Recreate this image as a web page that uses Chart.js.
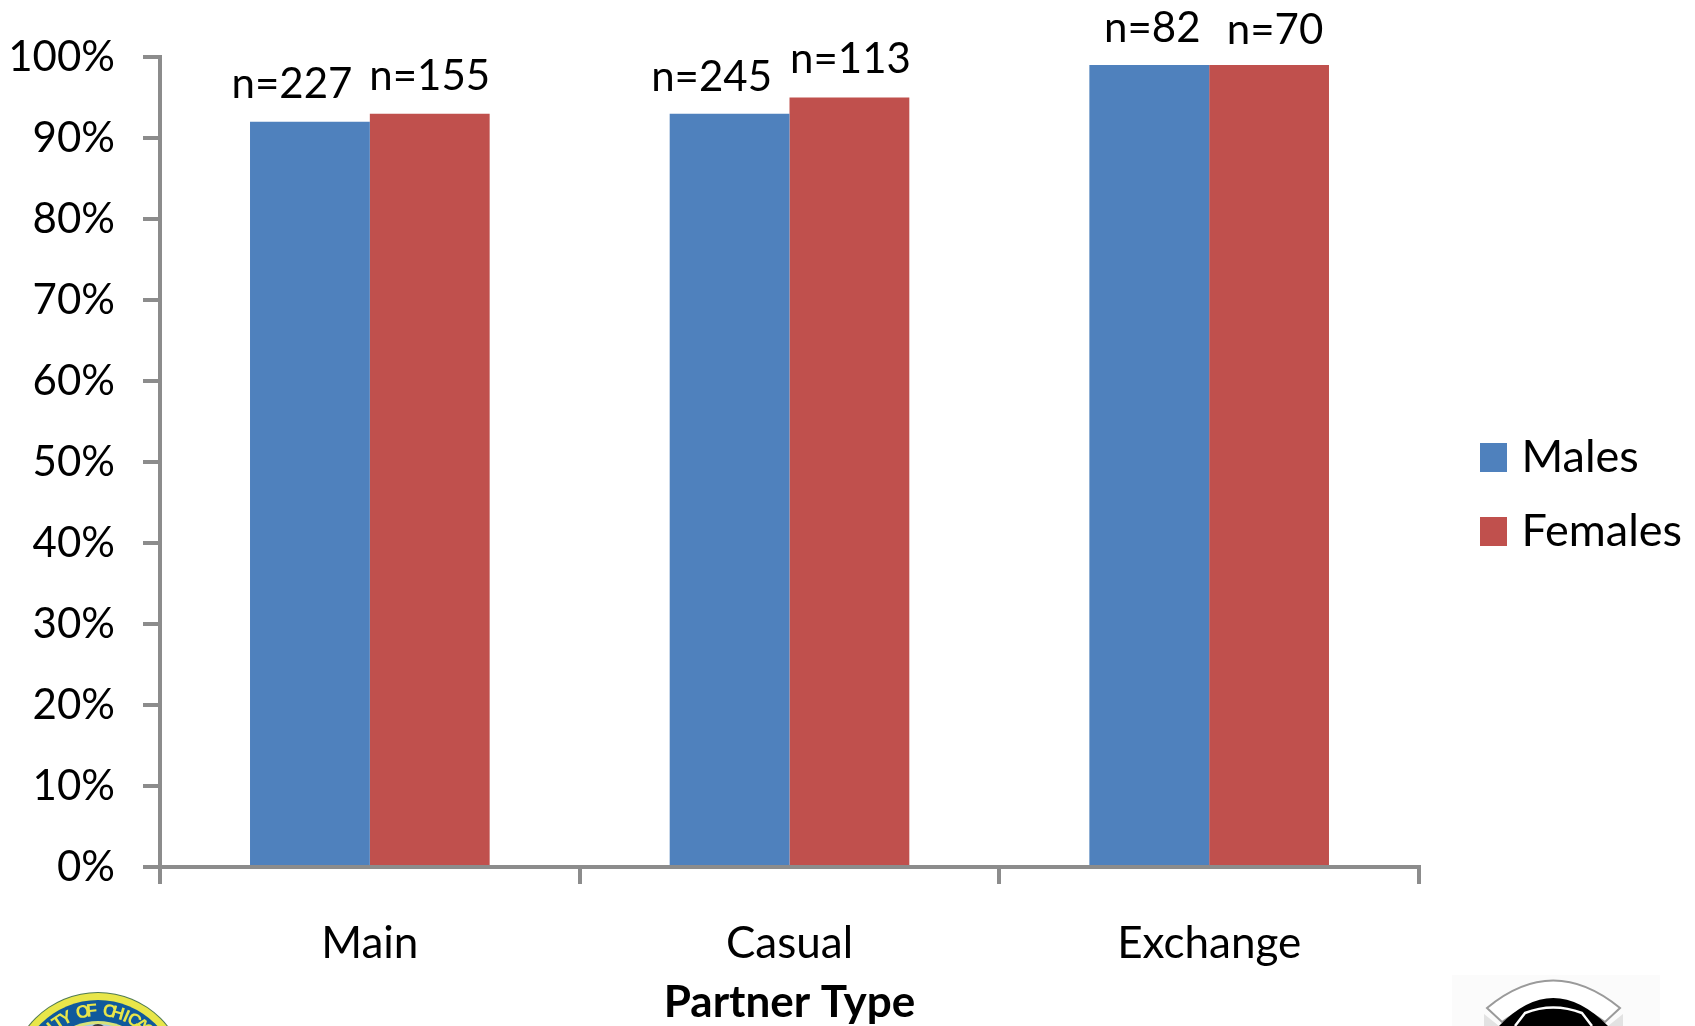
<!DOCTYPE html>
<html>
<head>
<meta charset="utf-8">
<style>
  html, body { margin: 0; padding: 0; background: #fff; }
  #wrap { width: 1695px; height: 1026px; }
</style>
<script src="https://cdn.jsdelivr.net/npm/chart.js@4/dist/chart.umd.min.js"></script>
</head>
<body>
<div id="wrap"><canvas id="chart"></canvas></div>
<script>
var categories = ["Main", "Casual", "Exchange"];
var males = [92, 93, 99];
var females = [93, 95, 99];
var malesN = ["n=227", "n=245", "n=82"];
var femalesN = ["n=155", "n=113", "n=70"];
var yTicks = ["0%", "10%", "20%", "30%", "40%", "50%", "60%", "70%", "80%", "90%", "100%"];

var blue = "#4f81bd";
var red = "#c0504d";
var axisGrey = "#8c8c8c";
var font = "Lato, 'Open Sans', sans-serif";

// text above bars, hand placed like in the slide: [dx, dy] from bar top centre
var maleNudge = [[-18, -16], [-18, -15], [3, -16]];
var femaleNudge = [[0, -16], [1, -17], [6, -14]];

// legend box as a picture so the text can sit closer than chart.js allows
function swatch(color) {
    var c = document.createElement("canvas");
    c.width = 27;
    c.height = 29;
    var g = c.getContext("2d");
    g.fillStyle = color;
    g.fillRect(0, 0, 27, 29);
    return c;
}

var nLabels = {
    id: "nLabels",
    afterDatasetsDraw: function (chart) {
        var ctx = chart.ctx;
        ctx.save();
        ctx.fillStyle = "#000";
        ctx.font = "42px " + font;
        ctx.textAlign = "center";
        ctx.textBaseline = "bottom";
        [[0, malesN, maleNudge], [1, femalesN, femaleNudge]].forEach(function (s) {
            chart.getDatasetMeta(s[0]).data.forEach(function (bar, i) {
                ctx.fillText(s[1][i], bar.x + s[2][i][0], bar.y + s[2][i][1]);
            });
        });
        ctx.restore();
    }
};

// legend sits away from the plot, not hard against it
var legendPlace = {
    id: "legendPlace",
    afterLayout: function (chart) {
        var l = chart.legend;
        var h = l.bottom - l.top;
        l.left = 1488 - chart.options.plugins.legend.labels.padding;
        l.right = l.left + l.width;
        l.top = 494 - h / 2;
        l.bottom = l.top + h;
    }
};

// the two logos cut off by the bottom of the slide
var logos = {
    id: "logos",
    afterDraw: function (chart) {
        var ctx = chart.ctx;
        ctx.save();

        function disc(x, y, r, color) {
            ctx.fillStyle = color;
            ctx.beginPath();
            ctx.arc(x, y, r, 0, Math.PI * 2);
            ctx.fill();
        }

        // city seal
        var sx = 98, sy = 1081;
        disc(sx, sy, 89, "#4f7a52");
        disc(sx, sy, 88, "#e8e64a");
        disc(sx, sy, 81, "#0f5a9c");
        disc(sx, sy, 60, "#d7e27a");
        disc(sx, sy, 57, "#a9cbe6");
        disc(sx, sy - 48, 9, "#3a3a3a");
        var word = "CITY OF CHICAGO";
        ctx.fillStyle = "#e8e64a";
        ctx.font = "bold 18px 'Liberation Sans', sans-serif";
        ctx.textAlign = "center";
        ctx.textBaseline = "alphabetic";
        for (var i = 0; i < word.length; i++) {
            var a = ((i - 7) * 7.2 + 2) * Math.PI / 180;
            ctx.save();
            ctx.translate(sx, sy);
            ctx.rotate(a);
            ctx.fillText(word[i], 0, -65);
            ctx.restore();
        }

        // right hand logo
        ctx.fillStyle = "#fbfbfb";
        ctx.fillRect(1452, 975, 208, 51);
        ctx.strokeStyle = "#9a9a9a";
        ctx.lineWidth = 2;
        ctx.fillStyle = "#fff";
        ctx.beginPath();
        ctx.moveTo(1487, 1008);
        ctx.quadraticCurveTo(1553, 953, 1620, 1008);
        ctx.lineTo(1605, 1022);
        ctx.quadraticCurveTo(1553, 985, 1502, 1022);
        ctx.closePath();
        ctx.fill();
        ctx.stroke();
        ctx.fillStyle = "#e2e2e2";
        ctx.beginPath();
        ctx.moveTo(1484, 1014);
        ctx.lineTo(1499, 1026);
        ctx.lineTo(1484, 1026);
        ctx.closePath();
        ctx.moveTo(1623, 1014);
        ctx.lineTo(1608, 1026);
        ctx.lineTo(1623, 1026);
        ctx.closePath();
        ctx.fill();
        ctx.fillStyle = "#000";
        ctx.beginPath();
        ctx.moveTo(1499, 1026);
        ctx.quadraticCurveTo(1553, 970, 1608, 1026);
        ctx.closePath();
        ctx.fill();
        ctx.strokeStyle = "#fff";
        ctx.lineWidth = 2.5;
        ctx.beginPath();
        ctx.moveTo(1515, 1026);
        ctx.lineTo(1525, 1013);
        ctx.quadraticCurveTo(1553, 1002, 1582, 1013);
        ctx.lineTo(1592, 1026);
        ctx.stroke();

        ctx.restore();
    }
};

new Chart(document.getElementById("chart"), {
    type: "bar",
    data: {
        labels: categories,
        datasets: [
            { label: "Males", data: males, backgroundColor: blue, pointStyle: swatch(blue) },
            { label: "Females", data: females, backgroundColor: red, pointStyle: swatch(red) }
        ]
    },
    plugins: [nLabels, legendPlace, logos],
    options: {
        responsive: true,
        maintainAspectRatio: false,
        animation: false,
        devicePixelRatio: 1,
        categoryPercentage: 0.571,
        barPercentage: 1,
        layout: { padding: { top: 57, right: 43, left: 0, bottom: 0 } },
        plugins: {
            legend: {
                position: "right",
                labels: {
                    usePointStyle: true,
                    pointStyleWidth: 11,
                    padding: 29,
                    color: "#000",
                    font: { family: font, size: 45 }
                }
            },
            tooltip: { enabled: false }
        },
        scales: {
            x: {
                afterFit: function (s) { s.height = 159; },
                border: { color: axisGrey, width: 4 },
                grid: { display: true, drawOnChartArea: false, color: axisGrey, lineWidth: 4, tickLength: 17, offset: true },
                ticks: { color: "#000", padding: 33, maxRotation: 0, font: { family: font, size: 44 } },
                title: { display: true, text: "Partner Type", color: "#000", padding: { top: 6, bottom: -3 }, font: { family: font, size: 44, weight: "bold" } }
            },
            y: {
                min: 0,
                max: 100,
                afterFit: function (s) { s.width = 160; },
                border: { color: axisGrey, width: 4 },
                grid: { display: true, drawOnChartArea: false, color: axisGrey, lineWidth: 4, tickLength: 17 },
                ticks: {
                    stepSize: 10,
                    color: "#000",
                    padding: 28,
                    font: { family: font, size: 42 },
                    callback: function (v) { return yTicks[v / 10]; }
                }
            }
        }
    }
});
</script>
</body>
</html>
